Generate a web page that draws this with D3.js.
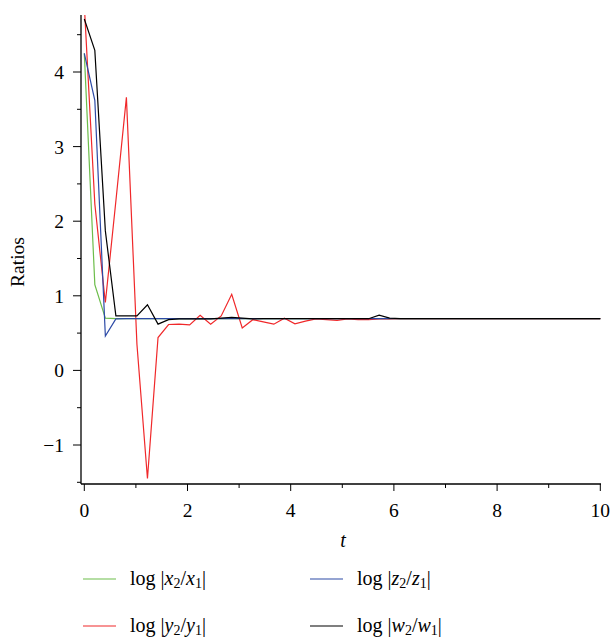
<!DOCTYPE html>
<html>
<head>
<meta charset="utf-8">
<script src="https://cdn.jsdelivr.net/npm/d3@7"></script>
<style>
  body { margin: 0; background: #fff; }
  text { font-family: "Liberation Serif", "DejaVu Serif", serif; fill: #000; }
</style>
</head>
<body>
<div id="chart"></div>
<script>
// time samples (uniform step 10/49 up to ~6.1, then flat to 10)
const tValues = [0, 0.204, 0.408, 0.612, 0.816, 1.020, 1.224, 1.429, 1.633, 1.837,
  2.041, 2.245, 2.449, 2.653, 2.857, 3.061, 3.265, 3.469, 3.673, 3.878,
  4.082, 4.286, 4.490, 4.694, 4.898, 5.102, 5.306, 5.510, 5.714, 5.918,
  6.122, 10]

const xRatio = [4.25, 1.15, 0.70, 0.693, 0.693, 0.693, 0.693, 0.693, 0.693, 0.693,
  0.693, 0.693, 0.693, 0.693, 0.693, 0.693, 0.693, 0.693, 0.693, 0.693,
  0.693, 0.693, 0.693, 0.693, 0.693, 0.693, 0.693, 0.693, 0.693, 0.693,
  0.693, 0.693]
const yRatio = [4.9, 2.23, 0.91, 2.27, 3.66, 0.35, -1.45, 0.44, 0.615, 0.62,
  0.61, 0.74, 0.62, 0.73, 1.02, 0.57, 0.68, 0.65, 0.62, 0.70,
  0.625, 0.66, 0.69, 0.68, 0.67, 0.69, 0.68, 0.68, 0.69, 0.69,
  0.693, 0.693]
const zRatio = [4.25, 3.62, 0.46, 0.69, 0.693, 0.693, 0.693, 0.693, 0.693, 0.693,
  0.693, 0.693, 0.693, 0.693, 0.693, 0.693, 0.693, 0.693, 0.693, 0.693,
  0.693, 0.693, 0.693, 0.693, 0.693, 0.693, 0.693, 0.693, 0.693, 0.693,
  0.693, 0.693]
const wRatio = [4.71, 4.29, 1.87, 0.73, 0.73, 0.73, 0.88, 0.62, 0.68, 0.69,
  0.69, 0.69, 0.69, 0.70, 0.71, 0.70, 0.69, 0.693, 0.693, 0.693,
  0.693, 0.693, 0.693, 0.693, 0.693, 0.693, 0.693, 0.693, 0.74, 0.70,
  0.693, 0.693]

const xTicks = [0, 2, 4, 6, 8, 10]
const yTicks = [-1, 0, 1, 2, 3, 4]

// legend: variable letter, colour, values
const series = [
  { v: 'x', color: '#6cbd4a', data: xRatio },
  { v: 'y', color: '#f0282a', data: yRatio },
  { v: 'z', color: '#2c4aa6', data: zRatio },
  { v: 'w', color: '#000000', data: wRatio }
]

const W = 610, H = 637
const svg = d3.select('#chart').append('svg').attr('width', W).attr('height', H)

const pLeft = 81, pRight = 601, pTop = 15, pBottom = 484
const x = d3.scaleLinear().domain([0, 10]).range([84.3, 600.3])
const y = d3.scaleLinear().domain([0, 4]).range([370.4, 72])

svg.append('defs').append('clipPath').attr('id', 'plot')
  .append('rect').attr('x', pLeft).attr('y', pTop).attr('width', pRight - pLeft).attr('height', pBottom - pTop)

// axes lines
svg.append('line').attr('x1', pLeft).attr('x2', pLeft).attr('y1', pTop).attr('y2', pBottom)
  .attr('stroke', '#000').attr('stroke-width', 1.3)
svg.append('line').attr('x1', pLeft).attr('x2', pRight).attr('y1', pBottom).attr('y2', pBottom)
  .attr('stroke', '#000').attr('stroke-width', 1.3)

// x ticks (major every 2, minor at odd)
d3.range(0, 11).forEach(v => {
  const major = v % 2 === 0
  svg.append('line').attr('x1', x(v)).attr('x2', x(v))
    .attr('y1', pBottom).attr('y2', pBottom + (major ? 7 : 4))
    .attr('stroke', '#000').attr('stroke-width', 1)
})
svg.selectAll('.xl').data(xTicks).enter().append('text')
  .attr('x', d => x(d)).attr('y', 517).attr('text-anchor', 'middle')
  .attr('font-size', 19.5).text(d => d)

// y ticks (major every 1, minor at .5)
d3.range(-1.5, 5, 0.5).forEach(v => {
  if (y(v) < pTop - 0.5 || y(v) > pBottom + 0.5) return
  const major = Number.isInteger(v)
  svg.append('line').attr('x1', pLeft).attr('x2', pLeft - (major ? 8 : 4))
    .attr('y1', y(v)).attr('y2', y(v))
    .attr('stroke', '#000').attr('stroke-width', 1)
})
svg.selectAll('.yl').data(yTicks).enter().append('text')
  .attr('x', 64).attr('y', d => y(d) + 7).attr('text-anchor', 'end')
  .attr('font-size', 19.5).text(d => d < 0 ? '\u2212' + Math.abs(d) : d)

// axis titles
svg.append('text').attr('x', 343).attr('y', 547).attr('text-anchor', 'middle')
  .attr('font-size', 20).attr('font-style', 'italic').text('t')
svg.append('text').attr('transform', 'translate(24,262) rotate(-90)')
  .attr('text-anchor', 'middle').attr('font-size', 19.5).text('Ratios')

// lines
const line = d3.line().x((d, i) => x(tValues[i])).y(d => y(d))
const g = svg.append('g').attr('clip-path', 'url(#plot)')
series.forEach(s => {
  g.append('path').attr('d', line(s.data)).attr('fill', 'none')
    .attr('stroke', s.color).attr('stroke-width', 1.2).attr('stroke-linejoin', 'miter')
})

// legend
const legendPos = [
  { s: series[0], lx: 83, ly: 579 },
  { s: series[2], lx: 310, ly: 579 },
  { s: series[1], lx: 83, ly: 626 },
  { s: series[3], lx: 310, ly: 626 }
]
legendPos.forEach(p => {
  svg.append('line').attr('x1', p.lx).attr('x2', p.lx + 33).attr('y1', p.ly).attr('y2', p.ly)
    .attr('stroke', p.s.color).attr('stroke-width', 1.2)
  const t = svg.append('text').attr('x', p.lx + 47).attr('y', p.ly + 6).attr('font-size', 20)
  t.append('tspan').text('log |')
  t.append('tspan').attr('font-style', 'italic').text(p.s.v)
  t.append('tspan').attr('font-size', 14).attr('dy', 3).text('2')
  t.append('tspan').attr('dy', -3).text('/')
  t.append('tspan').attr('font-style', 'italic').text(p.s.v)
  t.append('tspan').attr('font-size', 14).attr('dy', 3).text('1')
  t.append('tspan').attr('dy', -3).text('|')
})
</script>
</body>
</html>
